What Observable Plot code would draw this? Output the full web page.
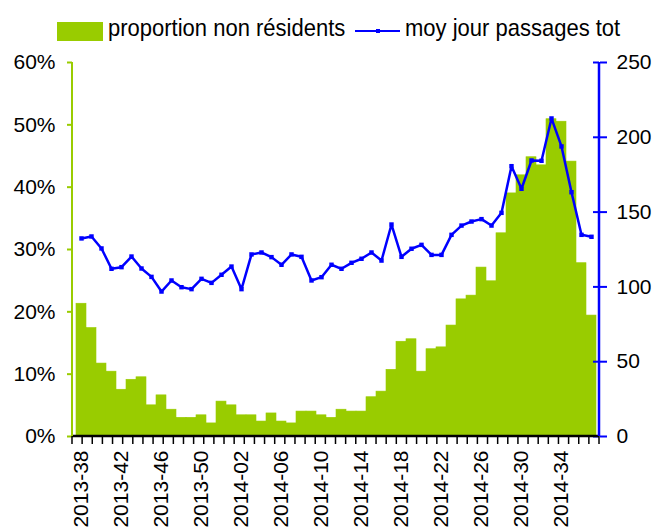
<!DOCTYPE html>
<html><head><meta charset="utf-8">
<script src="https://cdn.jsdelivr.net/npm/d3@7"></script>
<script src="https://cdn.jsdelivr.net/npm/@observablehq/plot@0.6"></script>
<style>
html,body{margin:0;padding:0;background:#fff;}
body{width:654px;height:530px;overflow:hidden;font-family:"Liberation Sans",Arial,sans-serif;}
#legend{position:relative;height:45px;width:654px;}
#legend .sw{position:absolute;left:57px;top:22px;width:46px;height:19px;background:#99cc00;}
#legend .t{position:absolute;top:18px;font-size:22px;line-height:22px;white-space:nowrap;color:#000;transform:scaleY(1.1);transform-origin:0 18px;}
#legend .ln{position:absolute;left:355px;top:30px;width:45px;height:2px;background:#0000ff;}
#legend .pt{position:absolute;left:376px;top:29px;width:4px;height:4px;background:#0000ff;}
</style></head><body>
<div id="legend"></div>
<div id="chart"></div>
<script>
const weeks = ["2013-38","2013-39","2013-40","2013-41","2013-42","2013-43","2013-44","2013-45","2013-46","2013-47","2013-48","2013-49","2013-50","2013-51","2013-52",
"2014-01","2014-02","2014-03","2014-04","2014-05","2014-06","2014-07","2014-08","2014-09","2014-10","2014-11","2014-12","2014-13","2014-14","2014-15","2014-16","2014-17","2014-18","2014-19","2014-20","2014-21","2014-22","2014-23","2014-24","2014-25","2014-26","2014-27","2014-28","2014-29","2014-30","2014-31","2014-32","2014-33","2014-34","2014-35","2014-36","2014-37"];
const propNonResidents = [21.3,17.4,11.7,10.4,7.5,9.1,9.5,5.0,6.6,4.3,3.0,3.0,3.4,2.1,5.6,
5.0,3.4,3.4,2.4,3.7,2.4,2.1,4.0,4.0,3.4,3.0,4.3,4.0,4.0,6.3,7.2,10.7,15.2,15.6,10.4,14.0,14.3,17.8,22.0,22.6,27.1,24.9,32.6,39.0,41.9,44.8,43.5,50.9,50.5,44.1,27.8,19.4];
const passagesTot = [132.4,133.7,125.7,112.1,113.2,120.3,112.3,106.7,96.9,104.3,99.8,98.5,105.4,102.7,108.1,
113.6,98.5,121.7,123.0,119.9,114.8,121.7,120.1,104.3,106.5,114.8,112.1,116.1,118.8,123.0,117.6,141.7,120.1,125.5,128.1,121.4,121.4,134.8,141.0,143.7,145.3,141.0,149.5,180.7,165.6,184.5,184.3,212.6,193.9,163.3,134.8,133.5];
const pctTicks = [0,10,20,30,40,50,60];
const passTicks = [0,50,100,150,200,250];
const xTickLabels = weeks.filter((d,i)=>i%4===0);
const seriesNames = ["proportion non résidents","moy jour passages tot"];

const GREEN="#99cc00", BLUE="#0000ff";
// legend
const lg = document.getElementById("legend");
lg.innerHTML = `<div class="sw"></div><span class="t" style="left:108px">${seriesNames[0]}</span><div class="ln"></div><div class="pt"></div><span class="t" style="left:405px">${seriesNames[1]}</span>`;

const W=654, H=485, ml=72, mr=55, mt=17, mb=94;
const pMax = pctTicks[pctTicks.length-1]/100, vMax = passTicks[passTicks.length-1];
const toLeft = v => v / vMax * pMax;
const data = weeks.map((w,i)=>({week:w, prop: propNonResidents[i]/100, pass: passagesTot[i]}));

const chart = Plot.plot({
  width:W, height:H, marginLeft:ml, marginRight:mr, marginTop:mt, marginBottom:mb,
  style:{fontFamily:"'Liberation Sans', Arial, sans-serif", fontSize:"21px", color:"#000", background:"#fff", overflow:"visible"},
  x:{type:"band", domain:weeks, padding:0, label:null},
  y:{domain:[0,pMax], label:null},
  marks:[
    Plot.barY(data,{x:"week", y:"prop", fill:GREEN, stroke:GREEN, strokeWidth:0.6}),
    Plot.axisY({ticks:pctTicks.map(d=>d/100), anchor:"left", tickSize:5, tickPadding:12, stroke:GREEN, strokeWidth:2, fill:"#000", tickFormat:d=>Math.round(d*100)+"%", label:null}),
    Plot.axisY({ticks:passTicks.map(toLeft), anchor:"right", tickSize:7, tickPadding:10, stroke:BLUE, strokeWidth:2, fill:"#000", tickFormat:d=>Math.round(d/pMax*vMax), label:null}),
    Plot.tickY(passTicks.map(toLeft), {y:d=>d, stroke:BLUE, strokeWidth:2, insetLeft:W-ml-mr-6}),
    Plot.axisX({ticks:xTickLabels, tickSize:0, tickPadding:14, tickRotate:-90, label:null, fill:"#000"}),
    Plot.line(data,{x:"week", y:d=>toLeft(d.pass), stroke:BLUE, strokeWidth:2.5}),
    Plot.dot(data,{x:"week", y:d=>toLeft(d.pass), symbol:"square", r:2.5, fill:BLUE, stroke:"none"})
  ]
});
document.getElementById("chart").appendChild(chart);

// axis lines and week boundary ticks using the plot's scales
const svg = d3.select(chart);
const xsd = chart.scale("x"), ysd = chart.scale("y");
const xb = d3.scaleBand().domain(xsd.domain).range(xsd.range).padding(0);
const yl = d3.scaleLinear().domain(ysd.domain).range(ysd.range);
const xL = xb(weeks[0]), xR = xb(weeks[weeks.length-1]) + xb.bandwidth();
const yB = yl(0), yT = yl(pMax);
const g = svg.append("g");
weeks.map(w=>xb(w)).concat([xR]).forEach(x=>{
  g.append("line").attr("x1",x).attr("x2",x).attr("y1",yB).attr("y2",yB+8).attr("stroke","#000").attr("stroke-width",1.5);
});
g.append("line").attr("x1",xL).attr("x2",xR).attr("y1",yB).attr("y2",yB).attr("stroke","#000").attr("stroke-width",2.5);
g.append("line").attr("x1",xL).attr("x2",xL).attr("y1",yT).attr("y2",yB).attr("stroke",GREEN).attr("stroke-width",2);
g.append("line").attr("x1",xR).attr("x2",xR).attr("y1",yT).attr("y2",yB).attr("stroke",BLUE).attr("stroke-width",2.5);
</script>
</body></html>
